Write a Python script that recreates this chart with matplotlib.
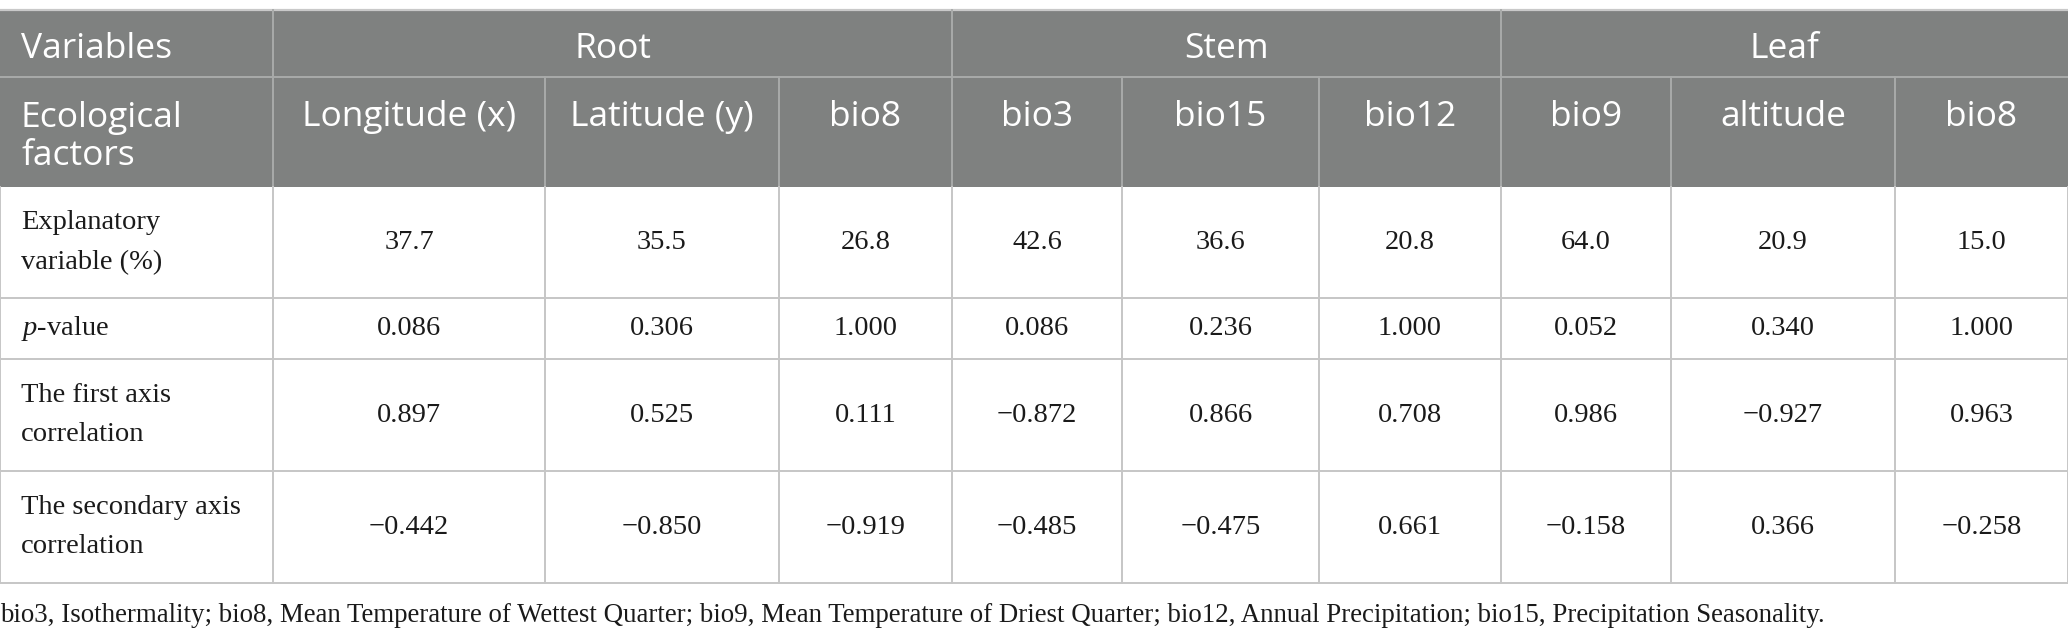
import matplotlib
matplotlib.use("Agg")
import matplotlib.pyplot as plt
from matplotlib.patches import Rectangle

plt.rcParams["mathtext.fontset"] = "custom"
plt.rcParams["mathtext.rm"] = "Liberation Serif"
plt.rcParams["mathtext.it"] = "Liberation Serif:italic"

# --- table content -------------------------------------------------------
groups = ["Root", "Stem", "Leaf"]
factors = ["Longitude (x)", "Latitude (y)", "bio8",
           "bio3", "bio15", "bio12",
           "bio9", "altitude", "bio8"]
row_labels = ["Explanatory\nvariable (%)", r"$\it{p}$-value",
              "The first axis\ncorrelation", "The secondary axis\ncorrelation"]
explained = [37.7, 35.5, 26.8, 42.6, 36.6, 20.8, 64.0, 20.9, 15.0]
p_values = [0.086, 0.306, 1.000, 0.086, 0.236, 1.000, 0.052, 0.340, 1.000]
axis1 = [0.897, 0.525, 0.111, -0.872, 0.866, 0.708, 0.986, -0.927, 0.963]
axis2 = [-0.442, -0.850, -0.919, -0.485, -0.475, 0.661, -0.158, 0.366, -0.258]
footnote = ("bio3, Isothermality; bio8, Mean Temperature of Wettest Quarter; "
            "bio9, Mean Temperature of Driest Quarter; bio12, Annual Precipitation; "
            "bio15, Precipitation Seasonality.")

# --- layout (pixels) -----------------------------------------------------
W, H = 2068, 639
col_x = [0, 273, 545, 779, 952, 1122, 1319, 1501, 1671, 1895, 2068]
row_y = [10, 77, 187, 298, 359, 471, 583]
HEAD_BG = "#7f8180"
HEAD_LINE = "#a9abaa"
BODY_LINE = "#c6c6c6"
SANS = "Open Sans"
SERIF = "Liberation Serif"
HEAD_FS = 25.5
BODY_FS = 20.5


def fmt(v, nd):
    s = f"{abs(v):.{nd}f}"
    return ("\u2212" + s) if v < 0 else s


fig = plt.figure(figsize=(W / 100, H / 100), dpi=100)
ax = fig.add_axes([0, 0, 1, 1])
ax.set_xlim(0, W)
ax.set_ylim(H, 0)
ax.axis("off")

# header background
ax.add_patch(Rectangle((0, row_y[0]), W, row_y[2] - row_y[0],
                       facecolor=HEAD_BG, edgecolor="none"))

# header lines
ax.plot([0, W], [row_y[0], row_y[0]], color="#c9c9c9", lw=1.6)
ax.plot([0, W], [row_y[1], row_y[1]], color=HEAD_LINE, lw=1.4)
for i in (1, 4, 7):
    ax.plot([col_x[i], col_x[i]], [row_y[0], row_y[1]], color=HEAD_LINE, lw=1.4)
for x in col_x[1:-1]:
    ax.plot([x, x], [row_y[1], row_y[2]], color=HEAD_LINE, lw=1.4)

# body lines
for y in row_y[3:]:
    ax.plot([0, W], [y, y], color=BODY_LINE, lw=1.4)
for x in col_x:
    ax.plot([x, x], [row_y[2], row_y[-1]], color=BODY_LINE, lw=1.4)

pad = 21
# header texts
mid1 = (row_y[0] + row_y[1]) / 2 + 5
mid2 = (row_y[1] + row_y[2]) / 2 + 5
ax.text(pad, mid1, "Variables", ha="left", va="center", color="white",
        fontsize=HEAD_FS, family=SANS)
for g, name in enumerate(groups):
    cx = (col_x[1 + 3 * g] + col_x[4 + 3 * g]) / 2
    ax.text(cx, mid1, name, ha="center", va="center", color="white",
            fontsize=HEAD_FS, family=SANS)
ax.text(pad, mid2, "Ecological\nfactors", ha="left", va="center", color="white",
        fontsize=HEAD_FS, family=SANS, linespacing=1.17)
for j, name in enumerate(factors):
    cx = (col_x[j + 1] + col_x[j + 2]) / 2
    ax.text(cx, mid2 - 20, name, ha="center", va="center", color="white",
            fontsize=HEAD_FS, family=SANS)

# body texts
rows = [[fmt(v, 1) for v in explained],
        [fmt(v, 3) for v in p_values],
        [fmt(v, 3) for v in axis1],
        [fmt(v, 3) for v in axis2]]
for r, (label, vals) in enumerate(zip(row_labels, rows)):
    cy = (row_y[r + 2] + row_y[r + 3]) / 2
    ax.text(pad, cy, label, ha="left", va="center", color="#1a1a1a",
            fontsize=BODY_FS, family=SERIF, linespacing=1.75)
    for j, s in enumerate(vals):
        cx = (col_x[j + 1] + col_x[j + 2]) / 2
        ax.text(cx, cy, s, ha="center", va="center", color="#1a1a1a",
                fontsize=BODY_FS, family=SERIF)

ax.text(0, 615, footnote, ha="left", va="center", color="#1a1a1a",
        fontsize=19.4, family=SERIF)

fig.savefig("out.png", dpi=100, facecolor="white")
